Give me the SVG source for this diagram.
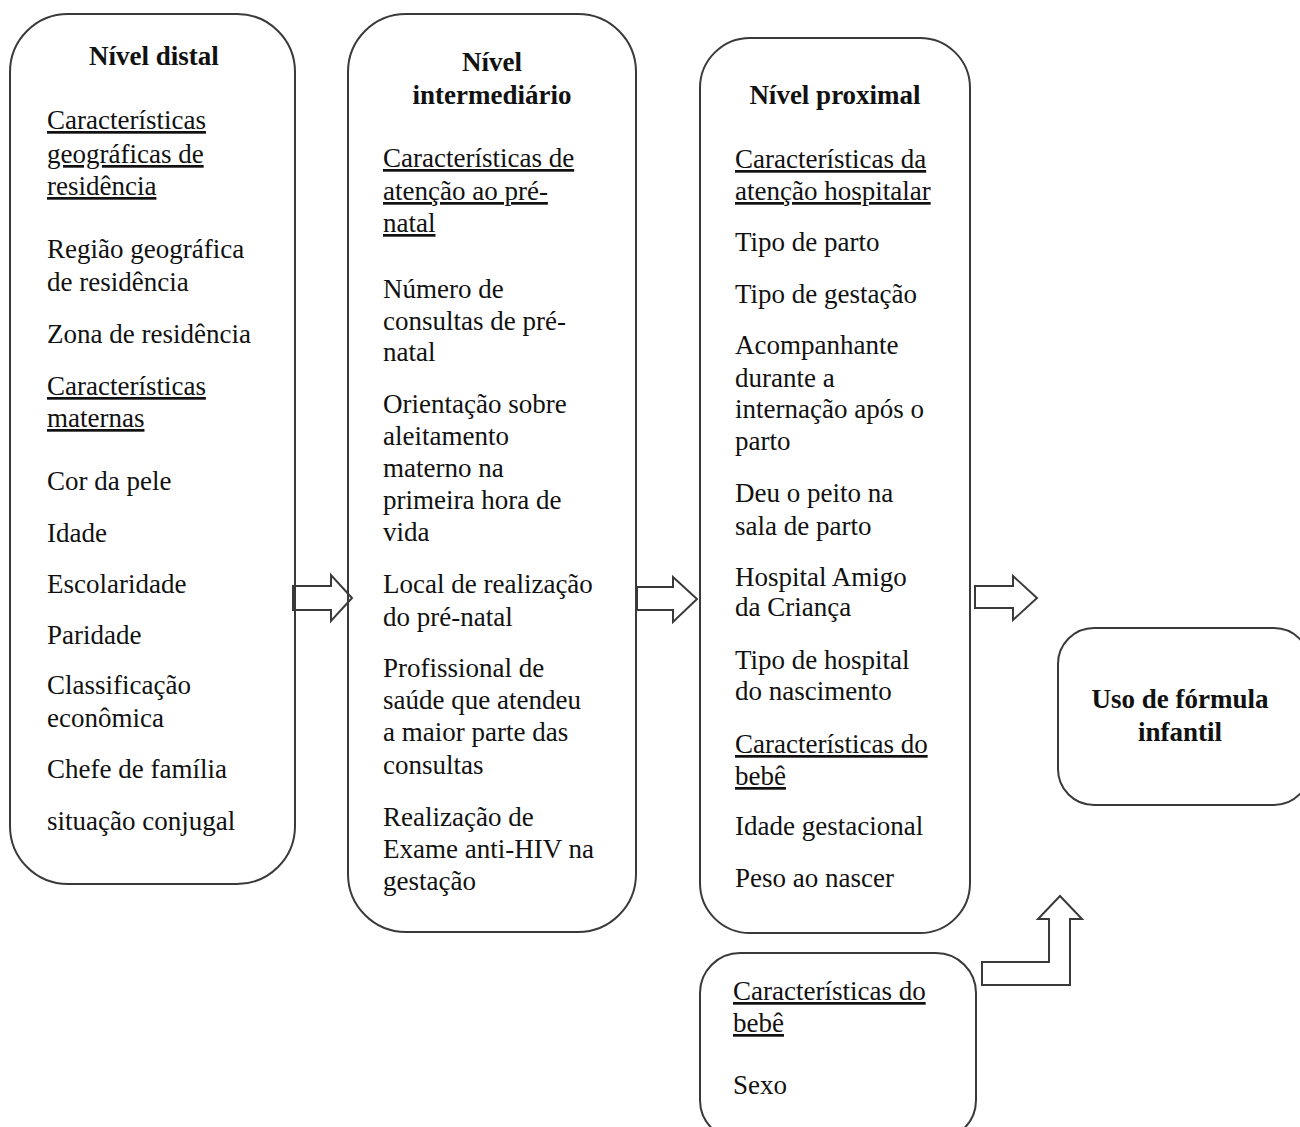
<svg xmlns="http://www.w3.org/2000/svg" width="1300" height="1127" viewBox="0 0 1300 1127">
<style>
.box{fill:none;stroke:#3a3a3a;stroke-width:2}
.arr{fill:#fff;stroke:#3a3a3a;stroke-width:2;stroke-linejoin:miter}
text{font-family:"Liberation Serif","Times New Roman",serif;font-size:27px;fill:#111}
.b{font-weight:bold}
.u{text-decoration:underline}
.c{text-anchor:middle}
</style>
<rect width="1300" height="1127" fill="#fff"/>
<g id="connectors">
<path class="arr" d="M293,586 L331,586 L331,575 L352,598 L331,621 L331,610 L293,610 Z"/>
<path class="arr" d="M637,587 L673,587 L673,577 L697,599 L673,622 L673,610 L637,610 Z"/>
<path class="arr" d="M975,586 L1013,586 L1013,576 L1037,598 L1013,620 L1013,608 L975,608 Z"/>
<path class="arr" d="M982,962 L1049,962 L1049,919 L1038,919 L1060,896 L1082,919 L1070,919 L1070,985 L982,985 Z"/>
</g>
<g id="distal">
<rect class="box" x="10" y="14" width="285" height="870" rx="58"/>
<text class="b c" x="154" y="65">Nível distal</text>
<text class="u" x="47" y="129">Características</text>
<text class="u" x="47" y="163">geográficas de</text>
<text class="u" x="47" y="195">residência</text>
<text x="47" y="258">Região geográfica</text>
<text x="47" y="291">de residência</text>
<text x="47" y="343">Zona de residência</text>
<text class="u" x="47" y="395">Características</text>
<text class="u" x="47" y="427">maternas</text>
<text x="47" y="490">Cor da pele</text>
<text x="47" y="542">Idade</text>
<text x="47" y="593">Escolaridade</text>
<text x="47" y="644">Paridade</text>
<text x="47" y="694">Classificação</text>
<text x="47" y="727">econômica</text>
<text x="47" y="778">Chefe de família</text>
<text x="47" y="830">situação conjugal</text>
</g>
<g id="intermediario">
<rect class="box" x="348" y="14" width="288" height="918" rx="58"/>
<text class="b c" x="492" y="71">Nível</text>
<text class="b c" x="492" y="104">intermediário</text>
<text class="u" x="383" y="167">Características de</text>
<text class="u" x="383" y="200">atenção ao pré-</text>
<text class="u" x="383" y="232">natal</text>
<text x="383" y="298">Número de</text>
<text x="383" y="330">consultas de pré-</text>
<text x="383" y="361">natal</text>
<text x="383" y="413">Orientação sobre</text>
<text x="383" y="445">aleitamento</text>
<text x="383" y="477">materno na</text>
<text x="383" y="509">primeira hora de</text>
<text x="383" y="541">vida</text>
<text x="383" y="593">Local de realização</text>
<text x="383" y="626">do pré-natal</text>
<text x="383" y="677">Profissional de</text>
<text x="383" y="709">saúde que atendeu</text>
<text x="383" y="741">a maior parte das</text>
<text x="383" y="774">consultas</text>
<text x="383" y="826">Realização de</text>
<text x="383" y="858">Exame anti-HIV na</text>
<text x="383" y="890">gestação</text>
</g>
<g id="proximal">
<rect class="box" x="700" y="38" width="270" height="895" rx="50"/>
<text class="b c" x="835" y="104">Nível proximal</text>
<text class="u" x="735" y="168">Características da</text>
<text class="u" x="735" y="200">atenção hospitalar</text>
<text x="735" y="251">Tipo de parto</text>
<text x="735" y="303">Tipo de gestação</text>
<text x="735" y="354">Acompanhante</text>
<text x="735" y="387">durante a</text>
<text x="735" y="418">internação após o</text>
<text x="735" y="450">parto</text>
<text x="735" y="502">Deu o peito na</text>
<text x="735" y="535">sala de parto</text>
<text x="735" y="586">Hospital Amigo</text>
<text x="735" y="616">da Criança</text>
<text x="735" y="669">Tipo de hospital</text>
<text x="735" y="700">do nascimento</text>
<text class="u" x="735" y="753">Características do</text>
<text class="u" x="735" y="785">bebê</text>
<text x="735" y="835">Idade gestacional</text>
<text x="735" y="887">Peso ao nascer</text>
</g>
<g id="bebe">
<rect class="box" x="700" y="953" width="276" height="187" rx="40"/>
<text class="u" x="733" y="1000">Características do</text>
<text class="u" x="733" y="1032">bebê</text>
<text x="733" y="1094">Sexo</text>
</g>
<g id="desfecho">
<rect class="box" x="1058" y="628" width="252" height="177" rx="36"/>
<text class="b c" x="1180" y="708">Uso de fórmula</text>
<text class="b c" x="1180" y="741">infantil</text>
</g>
</svg>
